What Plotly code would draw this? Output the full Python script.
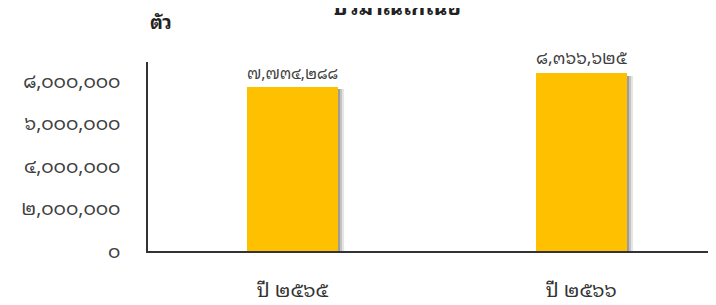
import plotly.graph_objects as go

categories = ["ปี ๒๕๖๕", "ปี ๒๕๖๖"]
values = [7734288, 8366625]
ytick_vals = [0, 2000000, 4000000, 6000000, 8000000]
title_text = "ปริมาณไก่เนื้อ"
unit_text = "ตัว"

TH = str.maketrans("0123456789", "๐๑๒๓๔๕๖๗๘๙")


def th(n):
    return f"{n:,}".translate(TH)


xs = list(range(len(categories)))
bar_w = 0.315
FONT = "'Noto Sans Thai Looped', 'Noto Serif Thai', 'Noto Sans Thai', Tahoma, sans-serif"

fig = go.Figure()
# soft shadow layers to the right of each bar
for dx, op in [(6, 0.10), (4, 0.15), (2, 0.2)]:
    fig.add_trace(go.Bar(
        x=xs, y=[v * 0.985 for v in values], width=bar_w,
        offset=-bar_w / 2 + dx / 289.0,
        marker=dict(color=f"rgba(0,0,0,{op})", line=dict(width=0)),
        hoverinfo="skip", showlegend=False,
    ))
fig.add_trace(go.Bar(
    x=xs, y=values, width=bar_w, offset=-bar_w / 2,
    marker=dict(color="#FFC000", line=dict(width=0)),
    text=[th(v) for v in values], textposition="outside",
    textfont=dict(size=20, color="#404040", family=FONT),
    cliponaxis=False, showlegend=False,
))

fig.update_layout(
    width=708, height=297,
    margin=dict(l=140, r=0, t=54, b=54),
    paper_bgcolor="white", plot_bgcolor="white",
    barmode="overlay", bargap=0,
    font=dict(family=FONT, color="#404040"),
    xaxis=dict(
        range=[-0.5, 1.467], tickvals=xs, ticktext=categories,
        showgrid=False, zeroline=False, showline=True,
        linecolor="#333333", linewidth=1.5, ticks="",
        tickfont=dict(size=20, color="#333333", family=FONT),
        ticklabelstandoff=20,
    ),
    yaxis=dict(
        range=[0, 8.9e6], tickvals=ytick_vals,
        ticktext=[th(v) for v in ytick_vals],
        showgrid=False, zeroline=False, showline=True,
        linecolor="#333333", linewidth=1.5, ticks="",
        tickfont=dict(size=19, color="#404040", family=FONT),
        ticklabelstandoff=22,
    ),
    annotations=[
        dict(text=f"<b>{title_text}</b>", xref="paper", yref="paper",
             x=0.438, y=1.300, xanchor="center", yanchor="middle",
             showarrow=False, font=dict(size=22, color="#222222", family=FONT)),
        dict(text=f"<b>{unit_text}</b>", xref="paper", yref="paper",
             x=0.0, y=1.222, xanchor="left", yanchor="middle",
             showarrow=False, font=dict(size=19, color="#222222", family=FONT)),
    ],
)

fig.write_html("out.html")
